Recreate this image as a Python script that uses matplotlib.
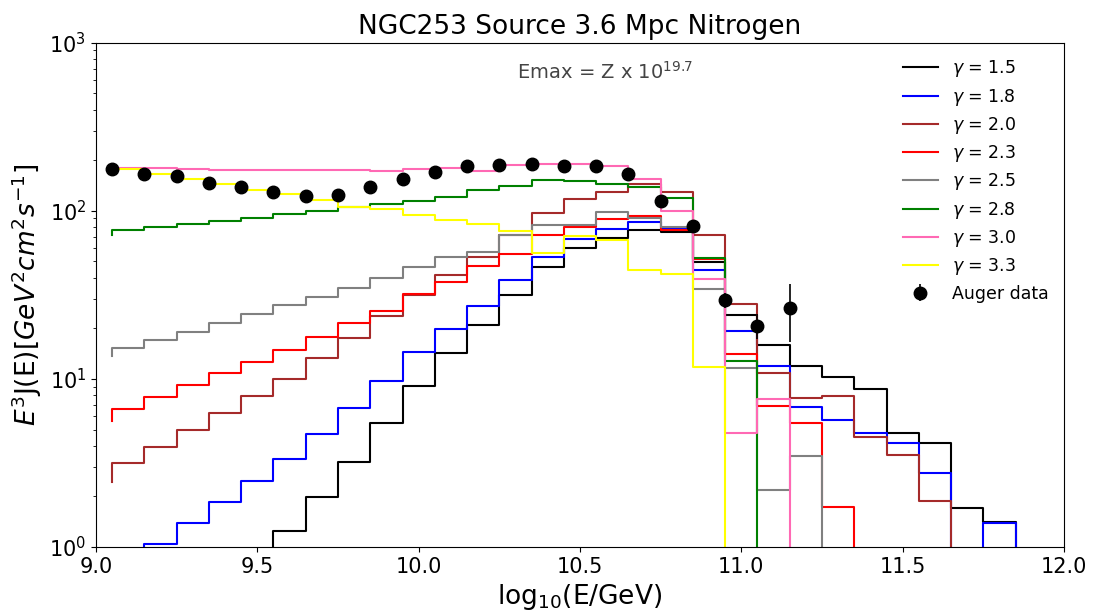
import numpy as np
import matplotlib
matplotlib.use("Agg")
import matplotlib.pyplot as plt

# log10(E/GeV) points (steps drawn "pre": value at x is the level of the segment ending at x)
logE = [9.05, 9.15, 9.25, 9.35, 9.45, 9.55, 9.65, 9.75, 9.85, 9.95,
        10.05, 10.15, 10.25, 10.35, 10.45, 10.55, 10.65, 10.75, 10.85, 10.95,
        11.05, 11.15, 11.25, 11.35, 11.45, 11.55, 11.65, 11.75, 11.85, 11.95]

g15 = [0.3, 0.4, 0.5, 0.6, 0.7, 0.8, 1.25, 1.98, 3.22, 5.45,
       9.1, 14.3, 21.0, 31.6, 46.0, 59.7, 68.8, 77.0, 74.7, 49.5,
       24.0, 15.9, 12.0, 10.2, 8.7, 4.79, 4.14, 1.70, 1.40, 0.5]
g18 = [0.6, 0.8, 1.04, 1.38, 1.85, 2.47, 3.34, 4.72, 6.69, 9.77,
       14.5, 19.8, 27.3, 38.8, 53.4, 68.1, 78.1, 85.2, 77.8, 44.5,
       19.4, 11.9, 6.78, 5.70, 4.75, 4.14, 2.75, 0.5, 1.38, 0.5]
g20 = [2.45, 3.15, 3.94, 4.97, 6.25, 7.89, 10.0, 13.3, 17.5, 23.8,
       31.5, 41.6, 53.4, 71.9, 96.9, 117.4, 130.0, 144.0, 128.5, 71.3,
       27.9, 10.8, 7.68, 7.96, 4.50, 3.53, 1.88, 0.5, 0.4, 0.3]
g23 = [5.65, 6.63, 7.78, 9.21, 10.9, 12.6, 14.8, 17.8, 21.4, 25.4,
       32.0, 37.9, 47.1, 55.0, 71.3, 80.0, 89.6, 93.4, 77.1, 52.0,
       14.1, 6.9, 5.45, 1.74, 0.5, 0.4, 0.3, 0.3, 0.3, 0.3]
g25 = [13.6, 15.2, 17.1, 19.1, 21.6, 24.4, 27.6, 30.6, 34.7, 39.7,
       46.6, 53.0, 56.8, 71.3, 81.8, 82.5, 97.7, 90.5, 80.0, 34.3,
       11.6, 2.18, 3.48, 0.5, 0.4, 0.3, 0.3, 0.3, 0.3, 0.3]
g28 = [72.0, 77.0, 79.6, 83.4, 87.5, 90.8, 95.1, 99.6, 106.0, 110.0,
       114.7, 121.0, 133.3, 140.8, 153.0, 151.0, 144.0, 137.6, 119.0, 52.7,
       12.8, 0.5, 0.4, 0.3, 0.3, 0.3, 0.3, 0.3, 0.3, 0.3]
g30 = [178.0, 178.6, 178.6, 177.0, 175.4, 173.8, 175.4, 175.0, 175.0, 173.0,
       177.8, 178.6, 171.4, 187.8, 189.7, 189.7, 183.6, 155.0, 100.4, 39.4,
       4.79, 7.57, 0.5, 0.4, 0.3, 0.3, 0.3, 0.3, 0.3, 0.3]
g33 = [177.0, 177.0, 165.0, 154.5, 144.0, 133.3, 125.7, 116.0, 106.0, 102.8,
       94.6, 88.4, 83.4, 76.0, 56.0, 71.0, 66.6, 44.2, 42.2, 11.8,
       0.5, 0.4, 0.3, 0.3, 0.3, 0.3, 0.3, 0.3, 0.3, 0.3]

series = [g15, g18, g20, g23, g25, g28, g30, g33]
gammas = ["1.5", "1.8", "2.0", "2.3", "2.5", "2.8", "3.0", "3.3"]
colors = ["black", "blue", "brown", "red", "grey", "green", "hotpink", "yellow"]

# Auger data
auger_x = [9.05, 9.15, 9.25, 9.35, 9.45, 9.55, 9.65, 9.75, 9.85, 9.95, 10.05,
           10.15, 10.25, 10.35, 10.45, 10.55, 10.65, 10.75, 10.85, 10.95, 11.05, 11.15]
auger_y = [177, 166, 161.6, 145.4, 137.6, 129.2, 122.8, 124, 137.6, 155, 170,
           184.5, 187, 188.7, 184.5, 184.5, 166, 114.2, 81.1, 29.5, 20.7, 26.5]
auger_err = [1, 1, 1, 1, 1, 1, 1, 1, 1, 1, 1,
             1.5, 1.5, 2, 2, 2.5, 3, 3, 3.5, 3, 3.5, 10]

fig = plt.figure(figsize=(10.97, 6.12), dpi=100)
ax = fig.add_axes([96/1097, 1-547/612, (1064-96)/1097, (547-42.7)/612])

for y, g, c in zip(series, gammas, colors):
    ax.step(logE, y, where="pre", color=c, lw=1.5, label=r"$\gamma$ = " + g)

ax.errorbar(auger_x, auger_y, yerr=auger_err, fmt="o", color="black",
            markersize=9, elinewidth=1.2, capsize=0, label="Auger data")

ax.set_yscale("log")
ax.set_xlim(9.0, 12.0)
ax.set_ylim(1, 1000)
ax.set_xticks([9.0, 9.5, 10.0, 10.5, 11.0, 11.5, 12.0])
ax.tick_params(axis="both", which="major", labelsize=15)

ax.set_title("NGC253 Source 3.6 Mpc Nitrogen", fontsize=19)
ax.set_xlabel(r"log$_{10}$(E/GeV)", fontsize=19)
ax.set_ylabel(r"$E^3$J(E)$[GeV^2cm^2s^{-1}]$", fontsize=19)

ax.text(0.435, 0.942, r"Emax = Z x 10$^{19.7}$", transform=ax.transAxes,
        fontsize=14, color="#444444", ha="left", va="center")

ax.legend(loc="upper right", frameon=False, fontsize=12.5, handlelength=2.0,
          labelspacing=0.42, bbox_to_anchor=(1.0, 1.0))

fig.savefig("out.png", dpi=100)
